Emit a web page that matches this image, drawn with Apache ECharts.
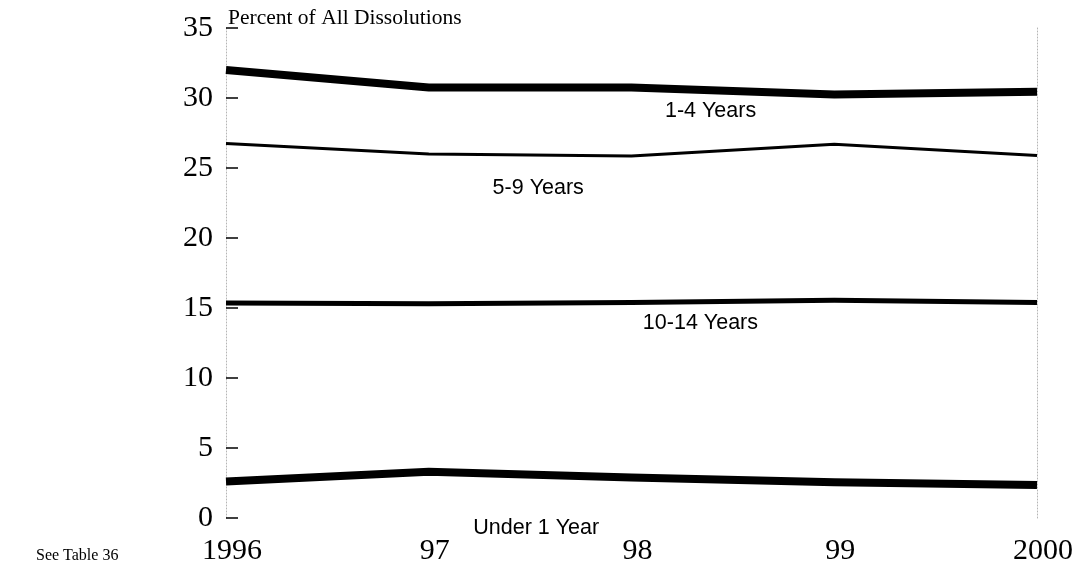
<!DOCTYPE html>
<html>
<head>
<meta charset="utf-8">
<script src="https://cdn.jsdelivr.net/npm/echarts@6/dist/echarts.min.js"></script>
<style>
html,body{margin:0;padding:0;background:#fff;}
#chart{width:1082px;height:569px;}
</style>
</head>
<body>
<div id="chart"></div>
<script>
var years = [1996, 1997, 1998, 1999, 2000];
var xTickLabels = ['1996', '97', '98', '99', '2000'];
var yTickLabels = ['0', '5', '10', '15', '20', '25', '30', '35'];
var seriesNames = ['1-4 Years', '5-9 Years', '10-14 Years', 'Under 1 Year'];
var years1to4 = [32.0, 30.75, 30.75, 30.25, 30.45];
var years5to9 = [26.75, 26.0, 25.85, 26.7, 25.9];
var years10to14 = [15.35, 15.3, 15.4, 15.55, 15.4];
var under1 = [2.6, 3.3, 2.9, 2.55, 2.35];

var chart = echarts.init(document.getElementById('chart'), null, {renderer: 'canvas'});

function pairs(vals) {
  return years.map(function (y, i) { return [y, vals[i]]; });
}

var labelFont = {fontFamily: 'Liberation Sans, Arial, sans-serif', fontSize: 21.5, color: '#000'};

function makeSeries(name, vals, width, labelCoord, labelOffset) {
  return {
    name: name,
    type: 'line',
    data: pairs(vals),
    symbol: 'none',
    clip: false,
    lineStyle: {color: '#000', width: width, join: 'miter'},
    itemStyle: {color: '#000'},
    emphasis: {disabled: true},
    silent: true,
    markPoint: {
      symbol: 'circle',
      symbolSize: 0,
      silent: true,
      data: [{
        coord: labelCoord,
        label: Object.assign({show: true, formatter: name, position: 'inside', offset: labelOffset || [0, 0]}, labelFont)
      }]
    }
  };
}

var option = {
  animation: false,
  backgroundColor: '#fff',
  title: [
    {text: 'Percent of All Dissolutions', left: 223, top: 2,
     textStyle: {fontFamily: 'Liberation Serif, Times New Roman, serif', fontSize: 21.5, fontWeight: 'normal', color: '#000'}},
    {text: 'See Table 36', left: 31, top: 543,
     textStyle: {fontFamily: 'Liberation Serif, Times New Roman, serif', fontSize: 16, fontWeight: 'normal', color: '#000'}}
  ],
  grid: {left: 226, right: 45, top: 28, bottom: 51, containLabel: false},
  xAxis: {
    type: 'value',
    min: 1996, max: 2000, interval: 1,
    axisLine: {show: false},
    axisTick: {show: false},
    splitLine: {show: false},
    axisLabel: {
      margin: 18,
      fontFamily: 'Liberation Serif, Times New Roman, serif',
      fontSize: 30,
      color: '#000',
      padding: [0, 0, 0, 12],
      formatter: function (v) { var i = years.indexOf(v); return i >= 0 ? xTickLabels[i] : ''; }
    }
  },
  yAxis: [{
    type: 'value',
    min: 0, max: 35, interval: 5,
    axisLine: {show: true, lineStyle: {color: '#b5b5b5', width: 1, type: [1, 2]}},
    axisTick: {show: true, inside: true, length: 12, lineStyle: {color: '#000', width: 1.5}},
    splitLine: {show: false},
    axisLabel: {
      margin: 13,
      fontFamily: 'Liberation Serif, Times New Roman, serif',
      fontSize: 30,
      color: '#000',
      padding: [10, 0, 0, 0],
      formatter: function (v) { return yTickLabels[v / 5]; }
    }
  }, {
    type: 'value',
    position: 'right',
    min: 0, max: 35, interval: 5,
    axisLine: {show: true, lineStyle: {color: '#b5b5b5', width: 1, type: [1, 2]}},
    axisTick: {show: false},
    axisLabel: {show: false},
    splitLine: {show: false}
  }],
  series: [
    makeSeries(seriesNames[0], years1to4, 8, [1998.39, 29.07]),
    makeSeries(seriesNames[1], years5to9, 3, [1997.54, 23.54]),
    makeSeries(seriesNames[2], years10to14, 5, [1998.34, 13.89]),
    makeSeries(seriesNames[3], under1, 8, [1997.53, 0], [0, 10])
  ]
};
chart.setOption(option);
</script>
</body>
</html>
